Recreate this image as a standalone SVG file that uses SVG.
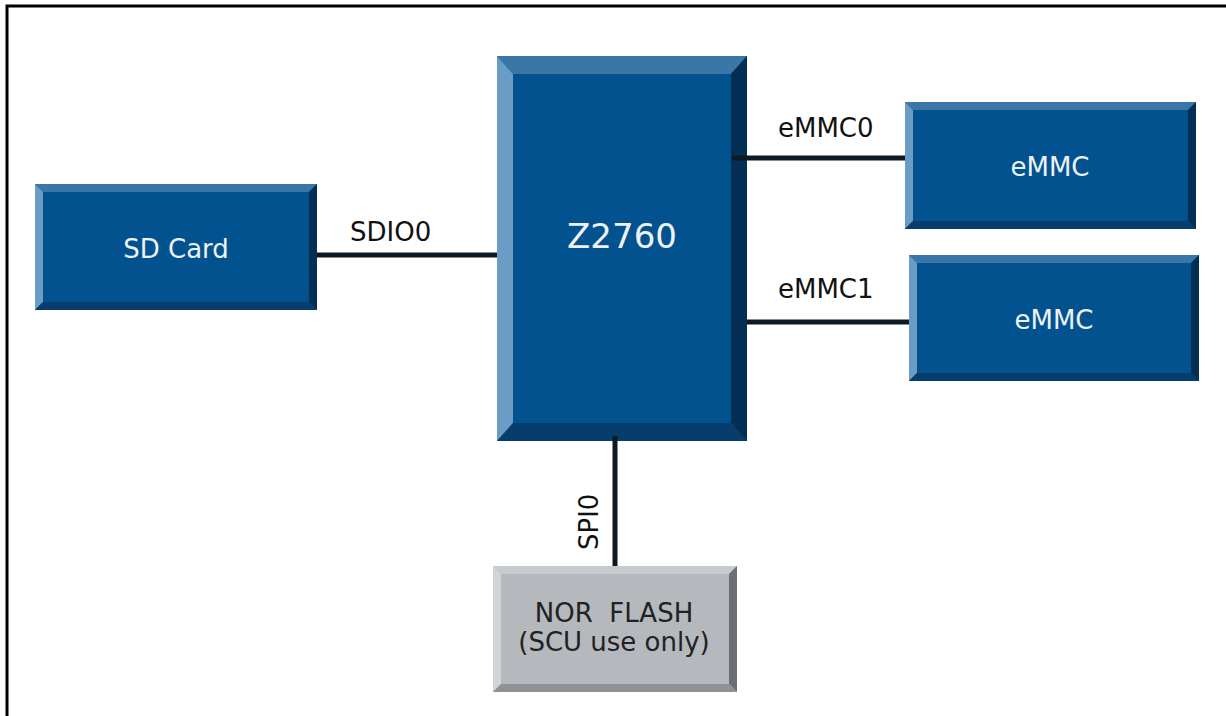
<svg xmlns="http://www.w3.org/2000/svg" width="1226" height="716" viewBox="0 0 1226 716">
<style>
.main{fill:#02528f}.top{fill:#3a76a8}.left{fill:#6a9cc6}.right{fill:#032f55}.bot{fill:#063d6c}
.gmain{fill:#b5b9bd}.gtop{fill:#c8cbce}.gleft{fill:#d2d5d8}.gright{fill:#6c7074}.gbot{fill:#8e9296}
.wt{font-family:"DejaVu Sans",Verdana,sans-serif;fill:#eef2f6;text-anchor:middle}
.lb{font-family:"DejaVu Sans",Verdana,sans-serif;fill:#111;font-size:26px}
.dk{font-family:"DejaVu Sans",Verdana,sans-serif;fill:#222;text-anchor:middle;font-size:26px}
.ln{stroke:#0d1a24;stroke-width:5;fill:none}
</style>
<rect width="1226" height="716" fill="#fff"/>
<path d="M7 716 V6 H1226" fill="none" stroke="#000" stroke-width="3"/>
<g id="z2760">
<rect class="main" x="497" y="56" width="250" height="385"/>
<polygon class="top" points="497,56 747,56 731,74 513,74"/>
<polygon class="left" points="497,56 513,74 513,423 497,441"/>
<polygon class="right" points="747,56 747,441 731,423 731,74"/>
<polygon class="bot" points="497,441 513,423 731,423 747,441"/>
<text class="wt" x="622" y="248" font-size="34">Z2760</text>
</g>
<g id="sdcard">
<rect class="main" x="35" y="184" width="282" height="126"/>
<polygon class="top" points="35,184 317,184 309,192 43,192"/>
<polygon class="left" points="35,184 43,192 43,302 35,310"/>
<polygon class="right" points="317,184 317,310 309,302 309,192"/>
<polygon class="bot" points="35,310 43,302 309,302 317,310"/>
<text class="wt" x="176" y="258" font-size="26">SD Card</text>
</g>
<g id="emmc0">
<rect class="main" x="905" y="102" width="291" height="127"/>
<polygon class="top" points="905,102 1196,102 1188,110 913,110"/>
<polygon class="left" points="905,102 913,110 913,221 905,229"/>
<polygon class="right" points="1196,102 1196,229 1188,221 1188,110"/>
<polygon class="bot" points="905,229 913,221 1188,221 1196,229"/>
<text class="wt" x="1050" y="176" font-size="26">eMMC</text>
</g>
<g id="emmc1">
<rect class="main" x="909" y="255" width="290" height="126"/>
<polygon class="top" points="909,255 1199,255 1191,263 917,263"/>
<polygon class="left" points="909,255 917,263 917,373 909,381"/>
<polygon class="right" points="1199,255 1199,381 1191,373 1191,263"/>
<polygon class="bot" points="909,381 917,373 1191,373 1199,381"/>
<text class="wt" x="1054" y="329" font-size="26">eMMC</text>
</g>
<g id="norflash">
<rect class="gmain" x="493" y="566" width="244" height="126"/>
<polygon class="gtop" points="493,566 737,566 729,574 501,574"/>
<polygon class="gleft" points="493,566 501,574 501,684 493,692"/>
<polygon class="gright" points="737,566 737,692 729,684 729,574"/>
<polygon class="gbot" points="493,692 501,684 729,684 737,692"/>
<text class="dk" x="614" y="622" xml:space="preserve">NOR  FLASH</text>
<text class="dk" x="614" y="651">(SCU use only)</text>
</g>
<g id="connectors">
<line class="ln" x1="317" y1="255" x2="497" y2="255"/>
<line class="ln" x1="732" y1="158" x2="905" y2="158"/>
<line class="ln" x1="747" y1="322" x2="909" y2="322"/>
<line class="ln" x1="615" y1="436" x2="615" y2="566"/>
<text class="lb" x="350" y="241">SDIO0</text>
<text class="lb" x="778" y="137">eMMC0</text>
<text class="lb" x="778" y="298">eMMC1</text>
<text class="lb" transform="translate(598,550) rotate(-90)">SPI0</text>
</g>
</svg>
